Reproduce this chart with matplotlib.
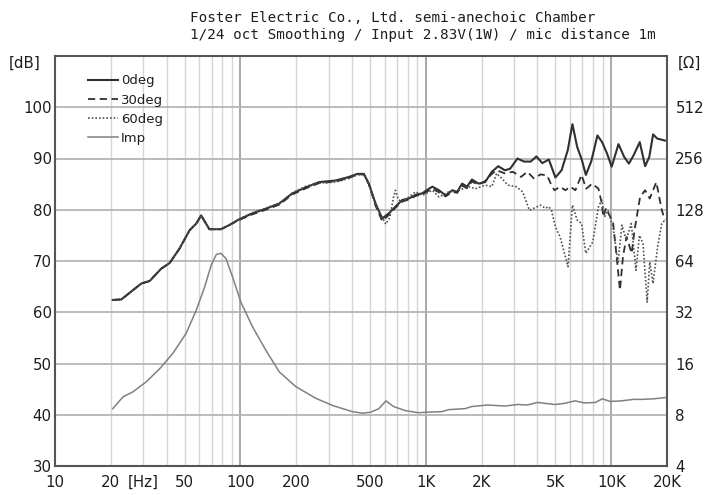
import matplotlib
matplotlib.use("Agg")
import matplotlib.pyplot as plt
from matplotlib.ticker import FixedLocator, NullFormatter, NullLocator

# ---------------- data ----------------
title_lines = ["Foster Electric Co., Ltd. semi-anechoic Chamber",
               "1/24 oct Smoothing / Input 2.83V(1W) / mic distance 1m"]

x_ticks = [10, 20, 30, 50, 100, 200, 500, 1000, 2000, 5000, 10000, 20000]
x_tick_labels = ["10", "20", "[Hz]", "50", "100", "200", "500", "1K", "2K", "5K", "10K", "20K"]
db_ticks = [30, 40, 50, 60, 70, 80, 90, 100]
ohm_ticks = [4, 8, 16, 32, 64, 128, 256, 512]

freq_0 = [20.5, 22.8, 26.3, 29.2, 32.4, 37.4, 41.5, 46.9, 53.2, 57.8, 61.4, 68.0, 78.5, 87.0,
          98.2, 116, 137, 162, 191, 226, 266, 326, 385, 427, 463, 493, 536, 582, 632, 686,
          746, 811, 881, 957, 1020, 1085, 1178, 1279, 1389, 1477, 1570, 1668, 1773, 1925,
          2090, 2270, 2460, 2670, 2850, 3120, 3390, 3680, 3950, 4250, 4610, 5000, 5400,
          5830, 6180, 6550, 6950, 7300, 7800, 8430, 8930, 9490, 10060, 10950, 11750, 12460,
          13200, 14260, 15240, 16050, 16830, 17690, 19500]
spl_0 = [62.4, 62.5, 64.3, 65.6, 66.1, 68.5, 69.6, 72.4, 76.0, 77.3, 78.9, 76.2, 76.2, 77.0,
         78.1, 79.3, 80.2, 81.2, 83.2, 84.4, 85.4, 85.7, 86.4, 87.0, 87.0, 85.1, 81.2, 78.3,
         79.3, 80.6, 81.9, 82.2, 82.9, 83.2, 83.9, 84.5, 83.8, 82.8, 83.8, 83.5, 85.1, 84.5,
         85.9, 85.1, 85.4, 87.4, 88.5, 87.7, 88.0, 90.0, 89.4, 89.4, 90.4, 89.1, 89.8, 86.3,
         87.7, 91.6, 96.7, 92.3, 89.7, 86.8, 89.4, 94.5, 93.2, 91.0, 88.4, 92.8, 90.3, 89.0,
         90.6, 93.2, 88.5, 90.3, 94.7, 93.9, 93.5]

freq_30 = [20.5, 22.8, 26.3, 29.2, 32.4, 37.4, 41.5, 46.9, 53.2, 57.8, 61.4, 68.0, 78.5, 87.0,
           98.2, 116, 137, 162, 191, 226, 266, 326, 385, 427, 463, 493, 536, 582, 632, 686,
           746, 811, 881, 957, 1020, 1085, 1178, 1279, 1389, 1477, 1570, 1668, 1773, 1925,
           2090, 2270, 2410, 2670, 2950, 3260, 3530, 3830, 4160, 4510, 4800, 4950, 5300,
           5660, 6030, 6410, 6920, 7330, 7900, 8540, 8900, 9070, 9370, 9800, 10230, 10650,
           11150, 11570, 12100, 12900, 13360, 14320, 15240, 16150, 17520, 18750, 19500]
spl_30 = [62.4, 62.5, 64.3, 65.6, 66.1, 68.5, 69.6, 72.4, 76.0, 77.3, 78.9, 76.2, 76.2, 77.0,
          78.0, 79.1, 80.0, 81.0, 83.0, 84.2, 85.2, 85.5, 86.2, 86.9, 86.9, 85.0, 80.8, 77.8,
          79.0, 80.4, 81.6, 82.0, 82.7, 83.0, 83.6, 84.1, 83.4, 82.6, 83.5, 83.3, 84.7, 84.2,
          85.5, 84.9, 85.6, 87.0, 87.7, 87.1, 87.4, 86.4, 87.4, 86.1, 86.9, 86.7, 84.5, 83.8,
          84.5, 83.8, 84.5, 83.8, 86.8, 84.1, 85.1, 84.1, 81.2, 78.6, 80.3, 78.9, 77.6, 71.5,
          64.3, 70.8, 74.7, 71.5, 76.0, 82.5, 83.8, 82.2, 85.4, 79.9, 78.0]

freq_60 = [20.5, 22.8, 26.3, 29.2, 32.4, 37.4, 41.5, 46.9, 53.2, 57.8, 61.4, 68.0, 78.5, 87.0,
           98.2, 116, 137, 162, 191, 226, 266, 326, 385, 427, 463, 493, 536, 582, 608, 640,
           670, 686, 710, 746, 811, 881, 957, 1085, 1178, 1330, 1510, 1710, 1850, 2090, 2270,
           2410, 2570, 2780, 3070, 3330, 3620, 3830, 4160, 4410, 4610, 4760, 5000, 5300, 5850,
           6180, 6550, 6920, 7300, 7950, 8540, 8900, 9230, 9600, 10230, 10650, 10870, 11430,
           12050, 12830, 13600, 14200, 14850, 15630, 16150, 16800, 17800, 18750, 19500]
spl_60 = [62.4, 62.5, 64.3, 65.6, 66.1, 68.5, 69.6, 72.4, 76.0, 77.3, 78.9, 76.2, 76.2, 77.0,
          78.2, 79.4, 80.3, 81.3, 83.3, 84.6, 85.2, 85.4, 86.1, 86.8, 86.9, 85.0, 81.0, 78.5,
          77.2, 78.5, 82.5, 83.8, 82.0, 81.5, 82.5, 83.5, 82.8, 83.8, 82.5, 83.5, 83.8, 84.5,
          84.1, 84.8, 84.5, 87.1, 86.1, 84.8, 84.5, 83.5, 79.9, 80.3, 80.9, 80.3, 80.6, 79.9,
          76.7, 74.7, 68.9, 80.9, 78.0, 77.3, 71.5, 73.7, 80.6, 81.9, 78.6, 79.9, 76.7, 72.1,
          69.5, 77.0, 74.1, 77.3, 68.2, 75.0, 73.4, 62.0, 69.8, 65.6, 72.8, 77.3, 78.0]

freq_imp = [20.5, 23.3, 26.3, 31.1, 36.7, 43.3, 51.0, 57.8, 64.1, 69.6, 74.2, 78.5, 83.6, 90.7,
            100.5, 116, 137, 162, 199, 255, 315, 402, 455, 505, 558, 610, 670, 775, 915, 1000,
            1220, 1330, 1630, 1770, 2150, 2670, 3130, 3530, 4000, 4960, 5560, 6390, 7190, 8220,
            8960, 9860, 11300, 13200, 14700, 16900, 19700]
imp_ohm = [8.69, 10.2, 10.9, 12.5, 14.9, 18.4, 24.1, 32.9, 45.0, 60.6, 70.0, 71.0, 66.2, 51.6,
           36.8, 26.4, 19.2, 14.3, 11.7, 10.0, 9.06, 8.34, 8.17, 8.28, 8.69, 9.65, 8.94, 8.46,
           8.22, 8.28, 8.34, 8.57, 8.69, 8.94, 9.13, 9.0, 9.19, 9.13, 9.45, 9.19, 9.32, 9.65,
           9.38, 9.45, 9.92, 9.58, 9.65, 9.85, 9.85, 9.92, 10.1]

# ---------------- figure ----------------
W, H = 707, 495
fig = plt.figure(figsize=(W / 100, H / 100), dpi=100)
L, R, T, B = 55, 667, 56, 466
ax = fig.add_axes([L / W, (H - B) / H, (R - L) / W, (B - T) / H])
ax.set_xscale("log")
ax.set_xlim(10, 20000)
ax.set_ylim(30, 110)

txt_col = "#1e1e1e"
grid_major = "#9a9a9a"
grid_minor = "#d6d6d6"
lab_fs = 10.8

# grid
ax.xaxis.set_major_locator(FixedLocator([100, 1000, 10000]))
minor = [m * d for d in (10, 100, 1000) for m in range(2, 10)] + [20000]
ax.xaxis.set_minor_locator(FixedLocator(minor))
ax.xaxis.set_major_formatter(NullFormatter())
ax.xaxis.set_minor_formatter(NullFormatter())
ax.grid(True, which="major", axis="x", color=grid_major, lw=1.2)
ax.grid(True, which="minor", axis="x", color=grid_minor, lw=1.0)
ax.yaxis.set_major_locator(FixedLocator(db_ticks))
ax.grid(True, which="major", axis="y", color="#b5b5b5", lw=1.3)
ax.tick_params(axis="both", which="both", length=0)
ax.set_yticklabels([str(v) for v in db_ticks], fontsize=lab_fs, color=txt_col)
ax.tick_params(axis="y", pad=2.5)
ax.set_axisbelow(True)

# x labels as text
for xv, lab in zip(x_ticks, x_tick_labels):
    ax.text(xv, -0.021, lab, transform=ax.get_xaxis_transform(), ha="center", va="top",
            fontsize=lab_fs, color=txt_col)

for s in ax.spines.values():
    s.set_color("#555555")
    s.set_linewidth(1.5)

# curves
l0, = ax.plot(freq_0, spl_0, color="#303030", lw=1.5, label="0deg")
l30, = ax.plot(freq_30, spl_30, color="#303030", lw=1.3, ls=(0, (4, 2.5)), label="30deg")
l60, = ax.plot(freq_60, spl_60, color="#505050", lw=1.2, ls=(0, (1, 1.2)), label="60deg")

ax2 = ax.twinx()
ax2.set_yscale("log", base=2)
ax2.set_ylim(4, 1024)
ax2.yaxis.set_major_locator(FixedLocator(ohm_ticks))
ax2.yaxis.set_minor_locator(NullLocator())
ax2.set_yticklabels([str(v) for v in ohm_ticks], fontsize=lab_fs, color=txt_col)
ax2.tick_params(axis="both", which="both", length=0, pad=6)
for s in ax2.spines.values():
    s.set_visible(False)
li, = ax2.plot(freq_imp, imp_ohm, color="#808080", lw=1.1, label="Imp")

leg = ax.legend(handles=[l0, l30, l60, li], loc="upper left", bbox_to_anchor=(0.045, 0.968),
                frameon=False, fontsize=9.5, handlelength=2.3, handletextpad=0.2,
                labelspacing=0.47, borderaxespad=0)
for t in leg.get_texts():
    t.set_color(txt_col)
leg.set_zorder(5)

fig.text(25 / W, 1 - 63 / H, "[dB]", ha="center", va="center", fontsize=lab_fs, color=txt_col)
fig.text(689 / W, 1 - 63 / H, "[Ω]", ha="center", va="center", fontsize=lab_fs, color=txt_col)

fig.text(190 / W, 1 - 18 / H, title_lines[0], ha="left", va="center",
         family="DejaVu Sans Mono", fontsize=10.3, color=txt_col)
fig.text(190 / W, 1 - 35 / H, title_lines[1], ha="left", va="center",
         family="DejaVu Sans Mono", fontsize=10.3, color=txt_col)

fig.savefig("out.png", dpi=100)
